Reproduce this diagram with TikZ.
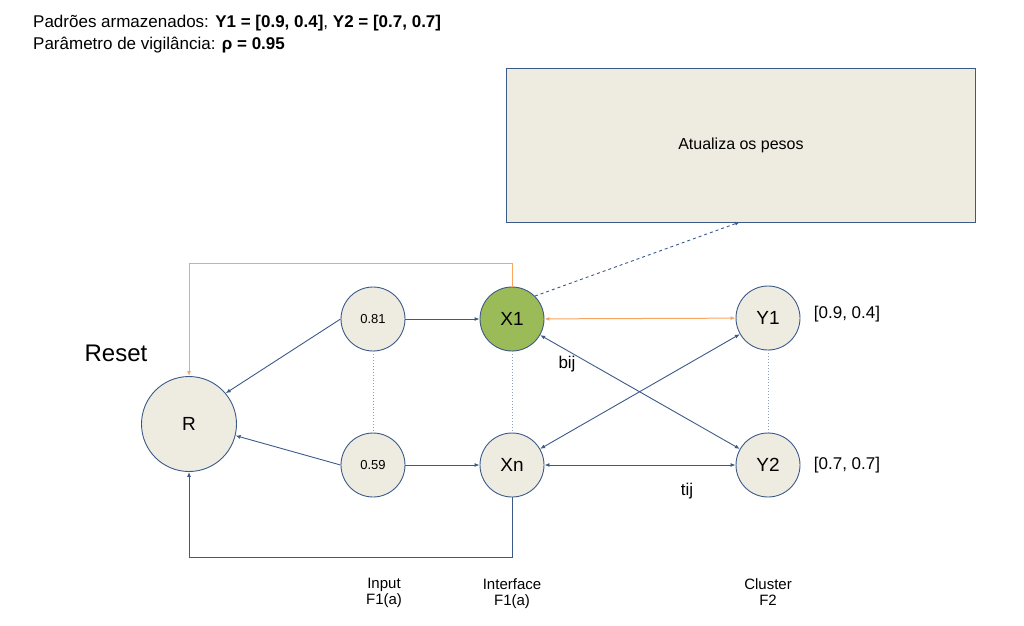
\documentclass[tikz,border=0pt]{standalone}
\usepackage{fontspec}
\setmainfont{Liberation Sans}
\usetikzlibrary{arrows.meta}
\definecolor{edge}{HTML}{3B5A8A}
\definecolor{beige}{HTML}{EEECE1}
\definecolor{leaf}{HTML}{9BBB59}
\definecolor{orng}{HTML}{F7A560}
\definecolor{dotc}{HTML}{8E9DBA}
\tikzset{
  neuron/.style={circle, draw=edge, fill=beige, line width=0.9pt, minimum size=64pt, inner sep=0pt, font=\fontsize{19}{21}\selectfont},
  small/.style={neuron, font=\fontsize{13}{15}\selectfont},
  conn/.style={draw=edge, line width=0.9pt, -{Latex[length=5pt,width=4pt]}},
  biconn/.style={draw=edge, line width=0.9pt, {Latex[length=5pt,width=4pt]}-{Latex[length=5pt,width=4pt]}},
  resetline/.style={draw=orng, line width=1pt, -{Latex[length=5pt,width=4pt]}},
  dotline/.style={draw=dotc, line width=0.9pt, dotted},
  lbl/.style={font=\fontsize{17}{19}\selectfont, inner sep=0pt},
  layercap/.style={font=\fontsize{15}{16}\selectfont, align=center, inner sep=0pt, anchor=north},
}
\begin{document}
\begin{tikzpicture}[x=1pt,y=-1pt]
\useasboundingbox (0,0) rectangle (1024,625);
% header
\node[lbl, anchor=west] (h1) at (33,23) {Padrões armazenados: \textbf{Y1 = [0.9, 0.4]}, \textbf{Y2 = [0.7, 0.7]}};
\node[lbl, anchor=west] (h2) at (33,45) {Parâmetro de vigilância: \textbf{ρ = 0.95}};
% box
\node[draw=edge, fill=beige, line width=0.9pt, minimum width=469pt, minimum height=154pt, anchor=north west, font=\fontsize{16}{18}\selectfont] (box) at (506,68) {Atualiza os pesos};
% nodes
\node[neuron, minimum size=95pt] (R) at (189,424) {R};
\node[small] (i1) at (373,319) {0.81};
\node[small] (i2) at (373,465) {0.59};
\node[neuron, fill=leaf] (X1) at (512,319) {X1};
\node[neuron] (Xn) at (512,465) {Xn};
\node[neuron] (Y1) at (768,318) {Y1};
\node[neuron] (Y2) at (768,465) {Y2};
% labels
\node[font=\fontsize{24}{26}\selectfont, inner sep=0pt] (reset) at (116,353) {Reset};
\node[lbl] (bij) at (567,364) {bij};
\node[lbl] (tij) at (687,491) {tij};
\node[lbl] (p1) at (847,314) {[0.9, 0.4]};
\node[lbl] (p2) at (847,465) {[0.7, 0.7]};
\node[layercap] (c1) at (384,578) {Input\\F1(a)};
\node[layercap] (c2) at (512,578) {Interface\\F1(a)};
\node[layercap] (c3) at (768,578) {Cluster\\F2};
% dotted
\draw[dotline] (i1) -- (i2);
\draw[dotline] (X1) -- (Xn);
\draw[dotline] (Y1) -- (Y2);
% connections
\draw[conn] (i1) -- (X1);
\draw[conn] (i2) -- (Xn);
\draw[conn] (i1.west) -- (R.40);
\draw[conn] (i2.west) -- (R.-14);
\draw[resetline] (X1.north) -- (512,263) -| (R.north);
\draw[conn] (Xn.south) -- (512,557) -| (R.south);
\draw[biconn, draw=orng, line width=1pt] (X1) -- (Y1);
\draw[biconn] (X1) -- (Y2);
\draw[biconn] (Xn) -- (Y1);
\draw[biconn] (Xn) -- (Y2);
\coordinate (bt) at (740,222);
\draw[draw=edge, line width=0.9pt, dashed, -{Latex[length=5pt,width=4pt]}] (X1.45) -- (bt);
\end{tikzpicture}
\end{document}
